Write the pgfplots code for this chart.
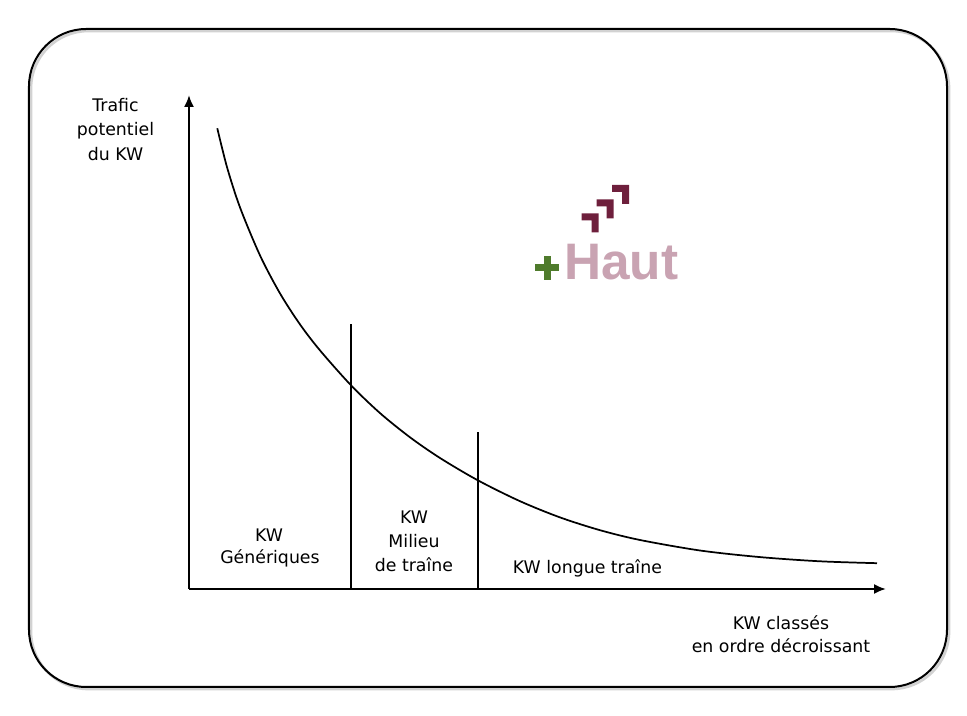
\documentclass[border=0pt]{standalone}
\usepackage{fontspec}
\setmainfont{DejaVu Sans}
\newfontfamily\logofont{Liberation Sans}
\usepackage{pgfplots}
\pgfplotsset{compat=1.18}
\usetikzlibrary{arrows.meta}
\definecolor{chev}{HTML}{6E1F3C}
\definecolor{plusg}{HTML}{4F7B2C}
\definecolor{hautp}{HTML}{C9A3B2}
\begin{document}
\begin{tikzpicture}
\begin{axis}[
  x=0.75pt, y=0.75pt,
  xmin=189, xmax=886, ymin=127, ymax=621,
  enlargelimits=false,
  axis lines=left,
  xtick=\empty, ytick=\empty,
  clip=false,
  x axis line style={line width=1.5pt, -{Latex[length=9pt,width=7.5pt]}},
  y axis line style={line width=1.5pt, -{Latex[length=9pt,width=7.5pt]}},
]
% frame and page size
\path (axis cs:0,0) rectangle (axis cs:967,716);
\draw[line width=2pt, gray!35, rounded corners=43pt] (axis cs:31,27) rectangle (axis cs:949,685);
\draw[line width=1.5pt, black, rounded corners=43pt] (axis cs:29,29) rectangle (axis cs:947,687);

% curve
\addplot[line width=1.3pt, smooth, tension=0.5, no markers] coordinates {
(217.3,587.7) (227,548.9) (240,508.6) (260,460.6) (280,422.6) (300,391.6)
(320,365.6) (351,330.7) (380,302.9) (410,278.7) (440,258) (478,235.6)
(520,214.8) (560,198.6) (600,185.8) (640,176) (700,165.5) (760,158.9)
(820,154.7) (877,152.8)};

% separators
\addplot[line width=1.5pt, no markers] coordinates {(351,127) (351,392)};
\addplot[line width=1.5pt, no markers] coordinates {(478,127) (478,284.3)};

% axis titles
\node[anchor=base, font=\fontsize{13}{16}\selectfont] at (axis cs:115.5,604.5) {Trafic};
\node[anchor=base, font=\fontsize{13}{16}\selectfont] at (axis cs:115.5,580) {potentiel};
\node[anchor=base, font=\fontsize{13}{16}\selectfont] at (axis cs:115.5,555.5) {du KW};
\node[anchor=base, font=\fontsize{13}{16}\selectfont] at (axis cs:781,86.7) {KW classés};
\node[anchor=base, font=\fontsize{13}{16}\selectfont] at (axis cs:781,63.3) {en ordre décroissant};

% zone labels
\node[anchor=base, font=\fontsize{13}{16}\selectfont] at (axis cs:269,174.3) {KW};
\node[anchor=base, font=\fontsize{13}{16}\selectfont] at (axis cs:270,152) {Génériques};
\node[anchor=base, font=\fontsize{13}{16}\selectfont] at (axis cs:414,192.5) {KW};
\node[anchor=base, font=\fontsize{13}{16}\selectfont] at (axis cs:414,168.3) {Milieu};
\node[anchor=base, font=\fontsize{13}{16}\selectfont] at (axis cs:414,144.3) {de traîne};
\node[anchor=base west, inner sep=0pt, font=\fontsize{13}{16}\selectfont] at (axis cs:512.7,142.3) {KW longue traîne};

% logo
\fill[chev] (axis cs:581.5,502.5) -- (axis cs:598.5,502.5) -- (axis cs:598.5,483.5) -- (axis cs:591.5,483.5) -- (axis cs:591.5,495.5) -- (axis cs:581.5,495.5) -- cycle;
\fill[chev] (axis cs:596.5,516.5) -- (axis cs:613.5,516.5) -- (axis cs:613.5,497.5) -- (axis cs:606.5,497.5) -- (axis cs:606.5,509.5) -- (axis cs:596.5,509.5) -- cycle;
\fill[chev] (axis cs:612,531) -- (axis cs:629,531) -- (axis cs:629,512) -- (axis cs:622,512) -- (axis cs:622,524) -- (axis cs:612,524) -- cycle;
\fill[plusg] (axis cs:535,444.5) rectangle (axis cs:559,451.5);
\fill[plusg] (axis cs:543.5,436) rectangle (axis cs:550.5,460);
\node[anchor=base west, inner sep=0pt, text=hautp, font=\logofont\bfseries\fontsize{38.5}{42}\selectfont] at (axis cs:564,436) {Haut};
\end{axis}
\end{tikzpicture}
\end{document}
